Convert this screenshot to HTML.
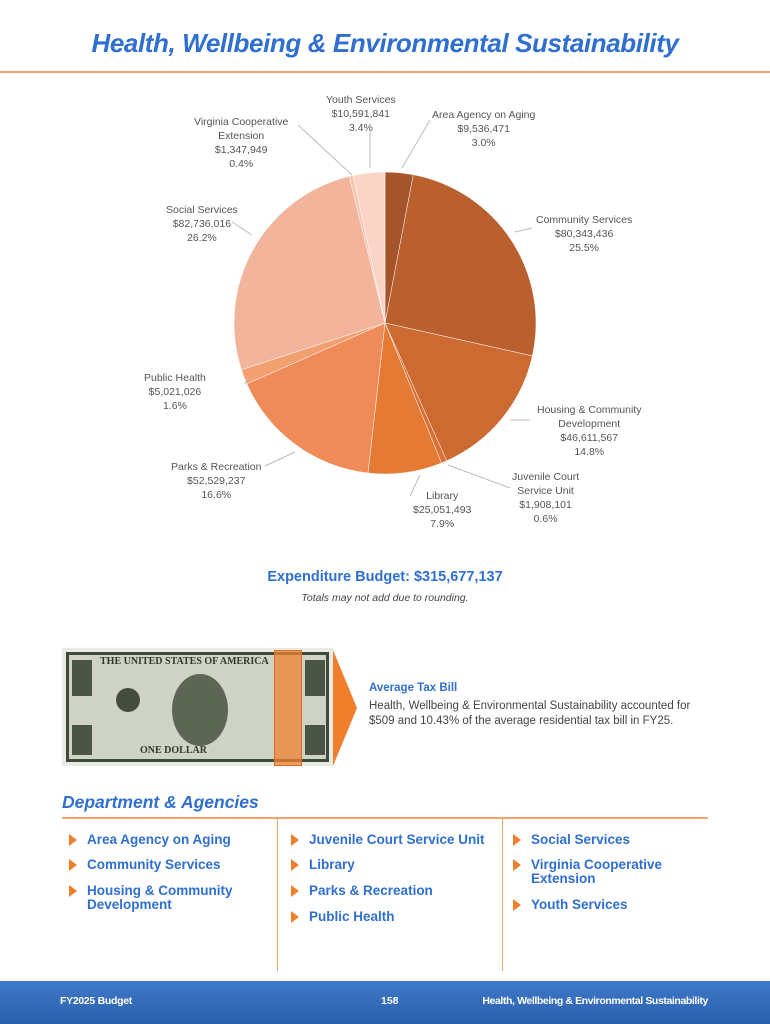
<!DOCTYPE html>
<html><head><style>
body{margin:0;width:770px;height:1024px;position:relative;background:#fff;font-family:"Liberation Sans",sans-serif;overflow:hidden}
.a{position:absolute}
.lbl{position:absolute;font-size:10.5px;color:#555;text-align:center;line-height:14px;white-space:nowrap}
.dep{position:absolute;font-size:13.5px;font-weight:bold;color:#2f6fcf;line-height:14px}
.dep:before{content:"";position:absolute;left:-18px;top:1px;border-left:8px solid #f07f2c;border-top:6px solid transparent;border-bottom:6px solid transparent}
</style></head><body>
<div class="a" style="left:0;top:28px;width:770px;text-align:center;font-size:26px;font-weight:bold;font-style:italic;color:#2f6fcf;letter-spacing:-0.4px">Health, Wellbeing &amp; Environmental Sustainability</div>
<div class="a" style="left:0;top:71px;width:770px;height:2px;background:#f3a36c"></div>

<svg class="a" style="left:0;top:0" width="770" height="560" id="pie"></svg>

<div class="lbl" style="left:326px;top:93px">Youth Services<br>$10,591,841<br>3.4%</div>
<div class="lbl" style="left:432px;top:108px">Area Agency on Aging<br>$9,536,471<br>3.0%</div>
<div class="lbl" style="left:194px;top:115px">Virginia Cooperative<br>Extension<br>$1,347,949<br>0.4%</div>
<div class="lbl" style="left:166px;top:203px">Social Services<br>$82,736,016<br>26.2%</div>
<div class="lbl" style="left:536px;top:213px">Community Services<br>$80,343,436<br>25.5%</div>
<div class="lbl" style="left:144px;top:371px">Public Health<br>$5,021,026<br>1.6%</div>
<div class="lbl" style="left:537px;top:403px">Housing &amp; Community<br>Development<br>$46,611,567<br>14.8%</div>
<div class="lbl" style="left:171px;top:460px">Parks &amp; Recreation<br>$52,529,237<br>16.6%</div>
<div class="lbl" style="left:512px;top:470px">Juvenile Court<br>Service Unit<br>$1,908,101<br>0.6%</div>
<div class="lbl" style="left:413px;top:489px">Library<br>$25,051,493<br>7.9%</div>

<div class="a" style="left:0;top:569px;width:770px;text-align:center;font-size:14.5px;font-weight:bold;color:#2f6fcf">Expenditure Budget: $315,677,137</div>
<div class="a" style="left:0;top:592px;width:770px;text-align:center;font-size:10.5px;font-style:italic;color:#444">Totals may not add due to rounding.</div>

<div class="a" style="left:62px;top:648px;width:271px;height:118px;background:#e9ebe4"></div>
<div class="a" style="left:66px;top:652px;width:263px;height:110px;background:#cfd3c6;border:3px solid #3f4a3a;box-sizing:border-box"></div>
<div class="a" style="left:100px;top:656px;width:200px;font-size:10px;font-weight:bold;color:#2e3a2c;font-family:'Liberation Serif',serif">THE UNITED STATES OF AMERICA</div>
<div class="a" style="left:172px;top:674px;width:56px;height:72px;border-radius:50%;background:#5d6555"></div>
<div class="a" style="left:116px;top:688px;width:24px;height:24px;border-radius:50%;background:#444c3f"></div>
<div class="a" style="left:140px;top:745px;width:120px;font-size:10px;font-weight:bold;color:#2e3a2c;font-family:'Liberation Serif',serif">ONE DOLLAR</div>
<div class="a" style="left:72px;top:660px;width:20px;height:36px;background:#4b5545"></div>
<div class="a" style="left:305px;top:660px;width:20px;height:36px;background:#4b5545"></div>
<div class="a" style="left:72px;top:725px;width:20px;height:30px;background:#4b5545"></div>
<div class="a" style="left:305px;top:725px;width:20px;height:30px;background:#4b5545"></div>
<div class="a" style="left:274px;top:650px;width:28px;height:116px;background:rgba(240,130,50,0.75);border:1px solid #e06a20;box-sizing:border-box"></div>
<div class="a" style="left:333px;top:650px;width:0;height:0;border-left:24px solid #f07f2c;border-top:58px solid transparent;border-bottom:58px solid transparent"></div>

<div class="a" style="left:369px;top:682px;font-size:11.5px;font-weight:bold;color:#2f6fcf">Average Tax Bill</div>
<div class="a" style="left:369px;top:699px;font-size:11.5px;color:#444;line-height:15px">Health, Wellbeing &amp; Environmental Sustainability accounted for<br>$509 and 10.43% of the average residential tax bill in FY25.</div>

<div class="a" style="left:62px;top:792px;font-size:17.5px;font-weight:bold;font-style:italic;color:#2f6fcf">Department &amp; Agencies</div>
<div class="a" style="left:62px;top:817px;width:646px;height:2px;background:#f3a36c"></div>
<div class="a" style="left:277px;top:819px;width:1px;height:152px;background:#f3a36c"></div>
<div class="a" style="left:502px;top:819px;width:1px;height:152px;background:#f3a36c"></div>

<div class="dep" style="left:87px;top:833px">Area Agency on Aging</div>
<div class="dep" style="left:87px;top:858px">Community Services</div>
<div class="dep" style="left:87px;top:884px">Housing &amp; Community<br>Development</div>
<div class="dep" style="left:309px;top:833px">Juvenile Court Service Unit</div>
<div class="dep" style="left:309px;top:858px">Library</div>
<div class="dep" style="left:309px;top:884px">Parks &amp; Recreation</div>
<div class="dep" style="left:309px;top:910px">Public Health</div>
<div class="dep" style="left:531px;top:833px">Social Services</div>
<div class="dep" style="left:531px;top:858px">Virginia Cooperative<br>Extension</div>
<div class="dep" style="left:531px;top:898px">Youth Services</div>

<div class="a" style="left:0;top:981px;width:770px;height:43px;background:linear-gradient(#3f79c8,#2a5fae)"></div>
<div class="a" style="left:60px;top:995px;font-size:10.5px;font-weight:bold;color:#fff;letter-spacing:-0.3px">FY2025 Budget</div>
<div class="a" style="left:381px;top:995px;font-size:10.5px;font-weight:bold;color:#fff">158</div>
<div class="a" style="left:475px;top:995px;width:233px;text-align:right;font-size:10.5px;font-weight:bold;color:#fff;letter-spacing:-0.4px;white-space:nowrap">Health, Wellbeing &amp; Environmental Sustainability</div>

<script>
var d=[[3.0,'#a5542c'],[25.5,'#b9602e'],[14.8,'#cc6a32'],[0.6,'#d97035'],[7.9,'#e57a35'],[16.6,'#ee8b58'],[1.6,'#f2a070'],[26.2,'#f2b49b'],[0.4,'#f7c4ad'],[3.4,'#fad5c7']];
var cx=385,cy=323,r=151,a=0,s='',tot=0;d.forEach(function(x){tot+=x[0]});
function p(t){return [cx+r*Math.sin(t),cy-r*Math.cos(t)]}
d.forEach(function(x){var b=a+x[0]/tot*2*Math.PI,P=p(a),Q=p(b);
s+='<path d="M'+cx+' '+cy+'L'+P[0]+' '+P[1]+'A'+r+' '+r+' 0 '+((b-a)>Math.PI?1:0)+' 1 '+Q[0]+' '+Q[1]+'Z" fill="'+x[1]+'" stroke="#fff" stroke-width="0.5"/>';a=b});
var L=[[370,131,370,168],[430,120,402,168],[298,125,352,175],[232,222,252,235],[532,228,515,232],[245,384,248,378],[530,420,510,420],[265,466,295,452],[510,488,448,465],[410,496,420,475]];
L.forEach(function(l){s+='<line x1="'+l[0]+'" y1="'+l[1]+'" x2="'+l[2]+'" y2="'+l[3]+'" stroke="#bbb" stroke-width="1"/>'});
document.getElementById('pie').innerHTML=s;
</script>
</body></html>
